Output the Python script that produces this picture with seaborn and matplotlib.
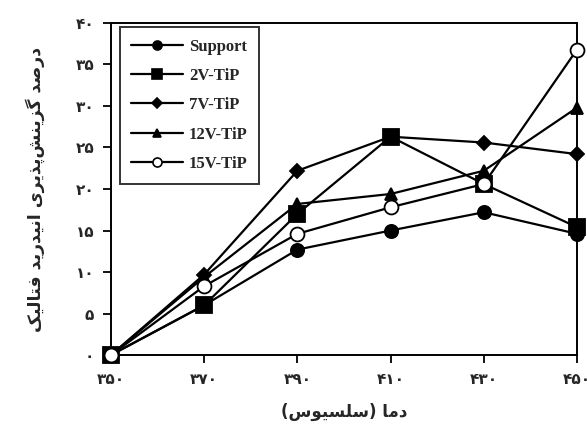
import matplotlib
matplotlib.use("Agg")
import matplotlib.pyplot as plt
import seaborn as sns
import pandas as pd
from matplotlib.lines import Line2D

# ---------------- data ----------------
temperatures = [350, 370, 390, 410, 430, 450]
support = [0.0, 6.0, 12.7, 15.0, 17.2, 14.6]
v2_tip = [0.0, 6.0, 17.0, 26.3, 20.6, 15.4]
v7_tip = [0.0, 9.7, 22.2, 26.3, 25.6, 24.2]
v12_tip = [0.0, 9.4, 18.2, 19.4, 22.2, 29.8]
v15_tip = [0.0, 8.3, 14.6, 17.8, 20.6, 36.8]
series_names = ["Support", "2V-TiP", "7V-TiP", "12V-TiP", "15V-TiP"]
x_ticks = [350, 370, 390, 410, 430, 450]
y_ticks = [0, 5, 10, 15, 20, 25, 30, 35, 40]
x_label = "دما (سلسیوس)"
y_label = "درصد گزینش\u200cپذیری انیدرید فتالیک"

# -------------- minimal Persian shaping (matplotlib has no RTL shaping) --------------
FORMS = {
    "ا": ("\uFE8D", "\uFE8E", None, None),
    "ب": ("\uFE8F", "\uFE90", "\uFE91", "\uFE92"),
    "پ": ("\uFB56", "\uFB57", "\uFB58", "\uFB59"),
    "ت": ("\uFE95", "\uFE96", "\uFE97", "\uFE98"),
    "د": ("\uFEA9", "\uFEAA", None, None),
    "ذ": ("\uFEAB", "\uFEAC", None, None),
    "ر": ("\uFEAD", "\uFEAE", None, None),
    "ز": ("\uFEAF", "\uFEB0", None, None),
    "س": ("\uFEB1", "\uFEB2", "\uFEB3", "\uFEB4"),
    "ش": ("\uFEB5", "\uFEB6", "\uFEB7", "\uFEB8"),
    "ص": ("\uFEB9", "\uFEBA", "\uFEBB", "\uFEBC"),
    "ف": ("\uFED1", "\uFED2", "\uFED3", "\uFED4"),
    "ل": ("\uFEDD", "\uFEDE", "\uFEDF", "\uFEE0"),
    "م": ("\uFEE1", "\uFEE2", "\uFEE3", "\uFEE4"),
    "ن": ("\uFEE5", "\uFEE6", "\uFEE7", "\uFEE8"),
    "و": ("\uFEED", "\uFEEE", None, None),
    "ی": ("\uFBFC", "\uFBFD", "\uFBFE", "\uFBFF"),
    "ک": ("\uFB8E", "\uFB8F", "\uFB90", "\uFB91"),
    "گ": ("\uFB92", "\uFB93", "\uFB94", "\uFB95"),
}


def shape(text):
    chars = list(text)
    out = []
    for i, c in enumerate(chars):
        if c not in FORMS:
            if c == "\u200c":
                continue
            out.append(c)
            continue
        iso, fin, ini, med = FORMS[c]
        prev = chars[i - 1] if i > 0 else None
        nxt = chars[i + 1] if i + 1 < len(chars) else None
        join_prev = prev in FORMS and FORMS[prev][2] is not None
        join_next = nxt in FORMS and ini is not None
        if join_prev and join_next:
            out.append(med)
        elif join_prev:
            out.append(fin)
        elif join_next:
            out.append(ini)
        else:
            out.append(iso)
    vis = "".join(reversed(out))
    vis = vis.translate(str.maketrans("()", ")("))
    return vis


def fa_digits(n):
    return str(n).translate(str.maketrans("0123456789", "۰۱۲۳۴۵۶۷۸۹"))


# ---------------- plot ----------------
sns.set_theme(style="ticks")
plt.rcParams["font.family"] = ["DejaVu Sans"]

fig = plt.figure(figsize=(5.87, 4.33), dpi=100)
ax = fig.add_axes([0.189, 0.180, 0.794, 0.767])

values = {
    "Support": support,
    "2V-TiP": v2_tip,
    "7V-TiP": v7_tip,
    "12V-TiP": v12_tip,
    "15V-TiP": v15_tip,
}
styles = {
    "Support": dict(marker="o", markersize=9.5, markerfacecolor="black"),
    "2V-TiP": dict(marker="s", markersize=11, markerfacecolor="black"),
    "7V-TiP": dict(marker="D", markersize=7, markerfacecolor="black"),
    "12V-TiP": dict(marker="^", markersize=9, markerfacecolor="black"),
    "15V-TiP": dict(marker="o", markersize=10, markerfacecolor="white"),
}
legend_ms = {"Support": 6.5, "2V-TiP": 6.5, "7V-TiP": 5, "12V-TiP": 6, "15V-TiP": 6.5}
draw_order = ["7V-TiP", "12V-TiP", "Support", "2V-TiP", "15V-TiP"]
for z, name in enumerate(draw_order):
    df = pd.DataFrame({"T": temperatures, "v": values[name]})
    sns.lineplot(data=df, x="T", y="v", ax=ax, color="black", linewidth=1.6,
                 markeredgecolor="black", markeredgewidth=1.3, zorder=3 + z,
                 clip_on=False, **styles[name])

ax.set_xlim(350, 450)
ax.set_ylim(0, 40)
ax.set_xticks(x_ticks)
ax.set_yticks(y_ticks)
ax.set_xticklabels([fa_digits(t) for t in x_ticks], fontweight="bold", fontsize=11)
ax.set_yticklabels([fa_digits(t) for t in y_ticks], fontweight="bold", fontsize=11)
ax.tick_params(direction="out", length=6, width=1.3, color="black", pad=6)
for s in ax.spines.values():
    s.set_visible(True)
    s.set_color("black")
    s.set_linewidth(1.4)

ax.set_xlabel(shape(x_label), fontweight="bold", fontsize=12, labelpad=12)
ax.set_ylabel(shape(y_label), fontweight="bold", fontsize=12.5, labelpad=22)

handles = []
for n in series_names:
    st = dict(styles[n])
    st["markersize"] = legend_ms[n]
    handles.append(Line2D([0], [0], color="black", linewidth=1.6, markeredgecolor="black",
                          markeredgewidth=1.2, **st))
leg = ax.legend(handles, series_names, loc="upper left", bbox_to_anchor=(0.019, 0.988),
                borderaxespad=0, frameon=True, fancybox=False, edgecolor="black",
                handlelength=3.1, handletextpad=0.35, labelspacing=0.8, borderpad=0.7,
                prop={"family": "Liberation Serif", "weight": "bold", "size": 12})
leg.get_frame().set_linewidth(1.4)
leg.set_zorder(20)

fig.savefig("out.png", dpi=100)
